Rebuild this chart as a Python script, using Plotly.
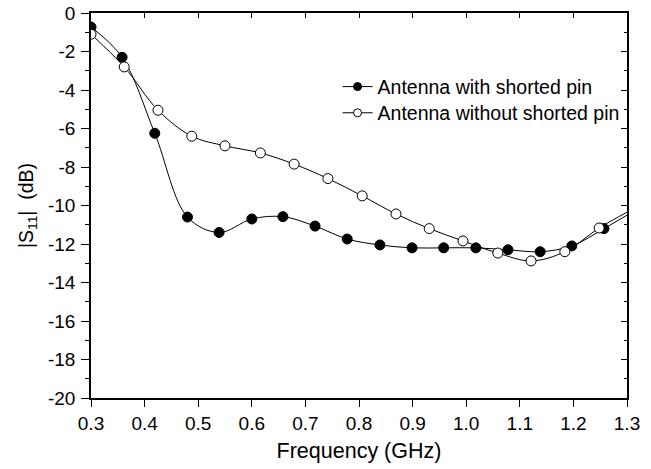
import plotly.graph_objects as go

# Measured points
freq_with = [0.300, 0.358, 0.419, 0.480, 0.539, 0.600, 0.658, 0.718, 0.778, 0.839, 0.899, 0.958, 1.018, 1.078, 1.138, 1.197, 1.257]
s11_with = [-0.73, -2.30, -6.25, -10.60, -11.40, -10.70, -10.58, -11.07, -11.74, -12.05, -12.20, -12.20, -12.20, -12.30, -12.40, -12.10, -11.20]

freq_without = [0.300, 0.362, 0.425, 0.488, 0.550, 0.616, 0.679, 0.742, 0.806, 0.869, 0.931, 0.994, 1.059, 1.121, 1.184, 1.248]
s11_without = [-1.10, -2.80, -5.05, -6.40, -6.90, -7.27, -7.85, -8.60, -9.50, -10.44, -11.20, -11.84, -12.47, -12.88, -12.40, -11.17]

# Curve end values at the right frame edge (1.3 GHz)
end_freq = 1.3
end_with = -10.5
end_without = -10.35

x_ticks = [0.3, 0.4, 0.5, 0.6, 0.7, 0.8, 0.9, 1.0, 1.1, 1.2, 1.3]
x_tick_labels = ["0.3", "0.4", "0.5", "0.6", "0.7", "0.8", "0.9", "1.0", "1.1", "1.2", "1.3"]
y_ticks = [0, -2, -4, -6, -8, -10, -12, -14, -16, -18, -20]
y_tick_labels = ["0", "-2", "-4", "-6", "-8", "-10", "-12", "-14", "-16", "-18", "-20"]

FONT = "Liberation Sans, Arial, sans-serif"
TICK_SIZE = 19
XTITLE_SIZE = 21.5
YTITLE_SIZE = 19.5
LEG_SIZE = 19.5

fig = go.Figure()

# smooth lines (with extension to frame edge)
fig.add_trace(go.Scatter(x=freq_with + [end_freq], y=s11_with + [end_with], mode="lines",
                         line=dict(color="black", width=1, shape="spline", smoothing=1.0),
                         showlegend=False, hoverinfo="skip"))
fig.add_trace(go.Scatter(x=freq_without + [end_freq], y=s11_without + [end_without], mode="lines",
                         line=dict(color="black", width=1, shape="spline", smoothing=1.0),
                         showlegend=False, hoverinfo="skip"))
# markers
fig.add_trace(go.Scatter(x=freq_with, y=s11_with, mode="markers", showlegend=False,
                         marker=dict(symbol="circle", size=10, color="black", line=dict(color="black", width=1))))
fig.add_trace(go.Scatter(x=freq_without, y=s11_without, mode="markers", showlegend=False,
                         marker=dict(symbol="circle", size=10, color="white", line=dict(color="black", width=1))))
# legend entries (each in its own legend box for exact row spacing)
fig.add_trace(go.Scatter(x=[None], y=[None], mode="lines+markers", name="Antenna with shorted pin",
                         legend="legend",
                         line=dict(color="black", width=1),
                         marker=dict(symbol="circle", size=8, color="black", line=dict(color="black", width=1))))
fig.add_trace(go.Scatter(x=[None], y=[None], mode="lines+markers", name="Antenna without shorted pin",
                         legend="legend2",
                         line=dict(color="black", width=1),
                         marker=dict(symbol="circle", size=8, color="white", line=dict(color="black", width=1))))

axis_common = dict(showgrid=False, zeroline=False, linecolor="black", linewidth=1.5, automargin=False,
                   tickcolor="black", tickfont=dict(family=FONT, size=TICK_SIZE, color="black"))

legend_common = dict(xanchor="left", yanchor="middle", bgcolor="rgba(0,0,0,0)",
                     font=dict(family=FONT, size=LEG_SIZE, color="black"), itemwidth=30)

fig.update_layout(
    width=651, height=469,
    margin=dict(l=91, r=24, t=13, b=71, autoexpand=False),
    paper_bgcolor="white", plot_bgcolor="white",
    font=dict(family=FONT, color="black"),
    xaxis=dict(range=[0.3, 1.3], tickvals=x_ticks, ticktext=x_tick_labels, ticks="outside", ticklen=7,
               title=dict(text="Frequency (GHz)", font=dict(family=FONT, size=XTITLE_SIZE), standoff=10),
               showline=True, **axis_common),
    yaxis=dict(range=[-20, 0], tickvals=y_ticks, ticktext=y_tick_labels, ticks="outside", ticklen=8,
               ticklabelstandoff=2,
               minor=dict(dtick=1, ticks="outside", ticklen=4, tickcolor="black"),
               title=dict(text="|S<sub>11</sub>|  (dB)", font=dict(family=FONT, size=YTITLE_SIZE), standoff=9),
               showline=True, **axis_common),
    xaxis2=dict(overlaying="x", side="top", range=[0.3, 1.3], tickvals=x_ticks, ticks="inside", ticklen=5,
                showticklabels=False, showline=True, anchor="y", **axis_common),
    yaxis2=dict(overlaying="y", side="right", range=[-20, 0], tickvals=y_ticks, ticks="inside", ticklen=6,
                minor=dict(dtick=1, ticks="inside", ticklen=3, tickcolor="black"),
                showticklabels=False, showline=True, anchor="x", **axis_common),
    legend=dict(x=0.46, y=0.808, **legend_common),
    legend2=dict(x=0.46, y=0.740, **legend_common),
)

# invisible trace to register the mirror axes
fig.add_trace(go.Scatter(x=[0.3], y=[0], xaxis="x2", yaxis="y2", mode="markers",
                         marker=dict(opacity=0), showlegend=False, hoverinfo="skip"))

fig.write_html("out.html", config={"displayModeBar": False},
               post_script="document.body.style.margin='0';")
